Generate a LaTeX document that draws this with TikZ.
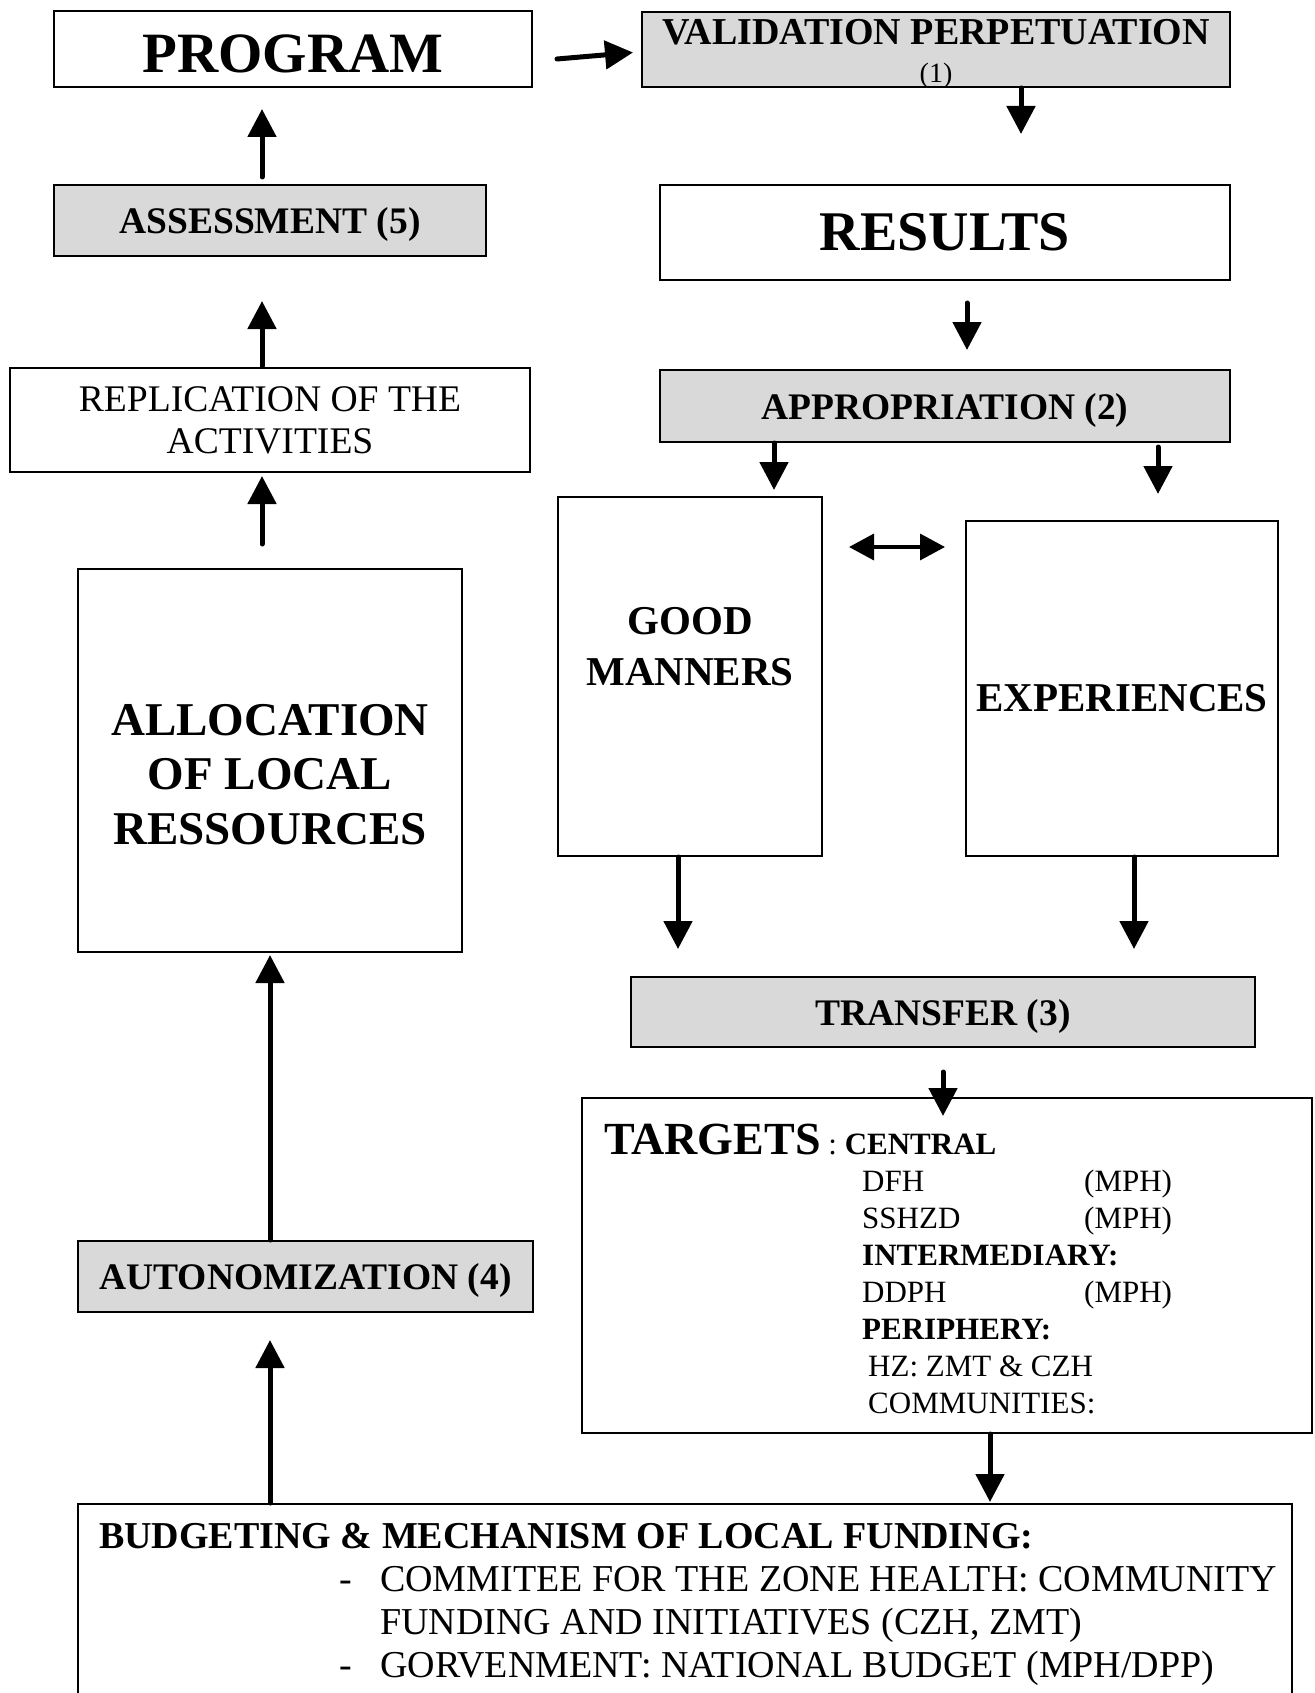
\documentclass[tikz,border=0pt]{standalone}
\usepackage{fontspec}
\setmainfont{Liberation Serif}
\usetikzlibrary{arrows.meta,calc}

\tikzset{
  box/.style={draw, line width=2pt, inner sep=0pt, align=center},
  marblebox/.style={box, fill=black!15},
  stagefont/.style={font=\fontsize{37.5}{40}\selectfont\bfseries, text depth=0pt},
  flow/.style={line width=5pt, line cap=round, -{Triangle[length=28pt,width=28pt]}},
  twoway/.style={line width=3.5pt, {Triangle[length=25pt,width=26pt]}-{Triangle[length=25pt,width=26pt]}}
}

\begin{document}
\begin{tikzpicture}[x=1pt,y=-1pt]
\useasboundingbox (0,0) rectangle (1314,1693);

% 1. Left column: program, assessment, replication, allocation, autonomization
\node[box, minimum width=478, minimum height=76, text height=48pt, font=\fontsize{57}{60}\selectfont\bfseries] (prog) at (293,49) {PROGRAM};
\node[marblebox, stagefont, minimum width=432, minimum height=71] (assess) at (270,220.5) {ASSESSMENT (5)};
\node[box, minimum width=520, minimum height=104, font=\fontsize{37.6}{42}\selectfont] (replic) at (270,420) {REPLICATION OF THE\\ACTIVITIES};
\node[box, minimum width=384, minimum height=383,
  label={[yshift=-14pt, font=\fontsize{47}{54.6}\selectfont\bfseries, align=center]center:{ALLOCATION\\OF LOCAL\\RESSOURCES}}] (alloc) at (270,760.5) {};
\node[marblebox, stagefont, minimum width=455, minimum height=71] (autonom) at (305.5,1276.5) {AUTONOMIZATION (4)};

% 2. Right column: validation, results, appropriation
\node[marblebox, minimum width=588, minimum height=75,
  label={[yshift=-4.5pt, font=\fontsize{38}{38}\selectfont, align=center]center:{{\bfseries VALIDATION PERPETUATION}\\{\fontsize{28}{38}\selectfont (1)}}}] (valid) at (936,49.5) {};
\node[box, minimum width=570, minimum height=95, font=\fontsize{56}{60}\selectfont\bfseries] (results) at (945,232.5) {RESULTS};
\node[marblebox, stagefont, minimum width=570, minimum height=72] (approp) at (945,406) {APPROPRIATION (2)};

% 3. Good manners and experiences
\node[box, minimum width=264, minimum height=359,
  label={[yshift=30pt, font=\fontsize{41}{51}\selectfont\bfseries, align=center]center:{GOOD\\MANNERS}}] (good) at (690,676.5) {};
\node[box, minimum width=312, minimum height=335,
  label={[yshift=-10pt, font=\fontsize{41}{45}\selectfont\bfseries]center:EXPERIENCES}] (exper) at (1122,688.5) {};

% 4. Transfer and targets
\node[marblebox, stagefont, minimum width=624, minimum height=70] (transfer) at (943,1012) {TRANSFER (3)};
\node[box, minimum width=730, minimum height=335,
  label={[anchor=north west, inner sep=0pt, xshift=23pt, yshift=-26.5pt, align=left,
    font=\fontsize{31}{37}\selectfont]north west:{%
    {\fontsize{46}{37}\selectfont\bfseries TARGETS} : \textbf{CENTRAL}\\
    \hspace*{258pt}\makebox[222pt][l]{DFH}(MPH)\\
    \hspace*{258pt}\makebox[222pt][l]{SSHZD}(MPH)\\
    \hspace*{258pt}\textbf{INTERMEDIARY:}\\
    \hspace*{258pt}\makebox[222pt][l]{DDPH}(MPH)\\
    \hspace*{258pt}\textbf{PERIPHERY:}\\
    \hspace*{264pt}HZ: ZMT \& CZH\\
    \hspace*{264pt}COMMUNITIES:}}] (targets) at (947,1265.5) {};

% 5. Budgeting box (runs off the bottom edge)
\node[box, minimum width=1214, minimum height=256,
  label={[anchor=north west, inner sep=0pt, xshift=22pt, yshift=-20pt, align=left,
    font=\fontsize{38}{43}\selectfont]north west:{%
    \textbf{BUDGETING \& MECHANISM OF LOCAL FUNDING:}\\
    \hspace*{240pt}\makebox[41pt][l]{-}COMMITEE FOR THE ZONE HEALTH: COMMUNITY\\
    \hspace*{281pt}FUNDING AND INITIATIVES (CZH, ZMT)\\
    \hspace*{240pt}\makebox[41pt][l]{-}GORVENMENT: NATIONAL BUDGET (MPH/DPP)}}] (budget) at (685,1632) {};

% 6. Arrows
\draw[flow] ($(prog.east)+(24,10)$) -- ($(valid.west)+(-8,3)$);
\draw[flow] ($(valid.south)+(85,0)$) -- ($(results.north)+(76,-50)$);
\draw[flow] ($(results.south)+(22,22)$) -- ($(approp.north)+(22,-19)$);
\draw[flow] ($(approp.south)+(-171,0)$) -- ($(good.north)+(84,-6)$);
\draw[flow] ($(approp.south)+(213,4)$) -- ($(exper.north)+(36,-26)$);
\draw[twoway] ($(good.north east)+(26,51)$) -- ($(exper.north west)+(-20,27)$);
\draw[flow] ($(good.south)+(-12,0)$) -- ($(transfer.north)+(-265,-27)$);
\draw[flow] ($(exper.south)+(12,0)$) -- ($(transfer.north)+(191,-27)$);
\draw[flow] ($(transfer.south)+(0,24)$) -- ($(targets.north)+(-4,19)$);
\draw[flow] ($(targets.south)+(43,0)$) -- ($(budget.north)+(305,-1)$);
\draw[flow] ($(budget.north)+(-415,0)$) -- ($(autonom.south)+(-35.5,27)$);
\draw[flow] ($(autonom.north)+(-35.5,0)$) -- ($(alloc.south)+(0,2)$);
\draw[flow] ($(alloc.north)+(-8,-24)$) -- ($(replic.south)+(-8,3)$);
\draw[flow] ($(replic.north)+(-8,-1)$) -- ($(assess.south)+(-8,44)$);
\draw[flow] ($(assess.north)+(-8,-7)$) -- ($(prog.south)+(-31,21)$);

\end{tikzpicture}
\end{document}
